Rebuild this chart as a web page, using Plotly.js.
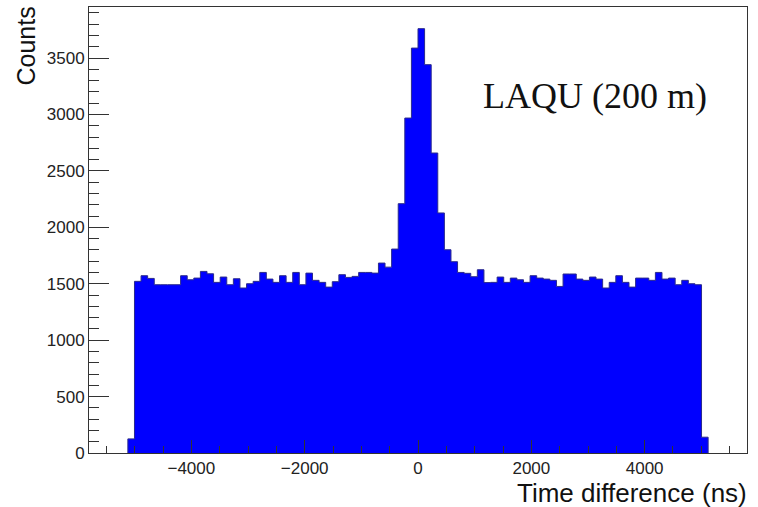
<!DOCTYPE html>
<html>
<head>
<meta charset="utf-8">
<script src="https://cdn.plot.ly/plotly-3.0.1.min.js"></script>
<style>html,body{margin:0;padding:0;background:#fff;}#chart{width:758px;height:507px;}</style>
</head>
<body>
<div id="chart"></div>
<script>
// Histogram definition (time difference, ns)
const binLo = -5120;
const binHi = 5120;
const nBins = 88;
const counts = [
  125,
  1521, 1571, 1547, 1491, 1491, 1491, 1491, 1571, 1535, 1550,
  1609, 1588, 1512, 1559, 1491, 1544, 1462, 1500, 1521, 1600,
  1541, 1512, 1571, 1512, 1600, 1491, 1594, 1530, 1512, 1470,
  1518, 1580, 1556, 1565, 1600, 1600, 1594, 1683, 1647, 1807,
  2209, 2968, 3588, 3760, 3441, 2658, 2127, 1801, 1695, 1600,
  1592, 1562, 1624, 1510, 1512, 1559, 1512, 1550, 1535, 1512,
  1571, 1550, 1541, 1530, 1476, 1586, 1586, 1541, 1530, 1559,
  1541, 1462, 1512, 1571, 1512, 1470, 1550, 1550, 1530, 1600,
  1541, 1550, 1491, 1530, 1500, 1491,
  140
];
const xTitle = "Time difference (ns)";
const yTitle = "Counts";
const label = "LAQU (200 m)";

const width = (binHi - binLo) / nBins;
const xs = [binLo];
const ys = [0];
for (let i = 0; i < nBins; i++) {
  xs.push(binLo + i * width);
  ys.push(counts[i]);
}
xs.push(binHi); ys.push(counts[nBins - 1]);
xs.push(binHi); ys.push(0);

const trace = {
  type: 'scatter', mode: 'lines', x: xs, y: ys,
  line: {shape: 'hv', color: '#2b2b8c', width: 1},
  fill: 'tozeroy', fillcolor: 'rgb(0,0,255)',
  hoverinfo: 'skip'
};

const sans = 'Liberation Sans, Arial, sans-serif';
const axisFont = {family: sans, size: 17, color: '#222'};
const layout = {
  width: 758, height: 507,
  margin: {l: 89, r: 11, t: 7, b: 54, pad: 0},
  paper_bgcolor: '#fff', plot_bgcolor: '#fff',
  showlegend: false,
  xaxis: {
    range: [-5806, 5806], tick0: 0, dtick: 2000,
    ticks: 'inside', ticklen: 13, tickcolor: '#333', tickwidth: 1,
    minor: {dtick: 500, tick0: 0, ticks: 'inside', ticklen: 7, tickcolor: '#333', tickwidth: 1},
    showline: true, linecolor: '#333', linewidth: 1, mirror: true,
    showgrid: false, zeroline: false,
    tickfont: axisFont, tickformat: 'd'
  },
  yaxis: {
    range: [0, 3952], tick0: 0, dtick: 500,
    ticks: 'inside', ticklen: 20, tickcolor: '#333', tickwidth: 1,
    minor: {dtick: 100, tick0: 0, ticks: 'inside', ticklen: 10, tickcolor: '#333', tickwidth: 1},
    showline: true, linecolor: '#333', linewidth: 1, mirror: true,
    showgrid: false, zeroline: false,
    tickfont: axisFont, tickformat: 'd'
  },
  annotations: [
    {text: xTitle, xref: 'paper', yref: 'paper', x: 1, y: 0, xanchor: 'right', yanchor: 'top',
     xshift: 2, yshift: -23, showarrow: false, font: {family: sans, size: 26, color: '#111'}},
    {text: yTitle, xref: 'paper', yref: 'paper', x: 0, y: 1, xanchor: 'right', yanchor: 'top',
     xshift: -48, yshift: 2, textangle: -90, showarrow: false, font: {family: sans, size: 25, color: '#111'}},
    {text: label, xref: 'paper', yref: 'paper', x: 0.596, y: 0.80, xanchor: 'left', yanchor: 'middle',
     showarrow: false, font: {family: 'Liberation Serif, Times New Roman, serif', size: 36, color: '#111'}}
  ]
};

Plotly.newPlot('chart', [trace], layout, {displayModeBar: false, staticPlot: true});
</script>
</body>
</html>
